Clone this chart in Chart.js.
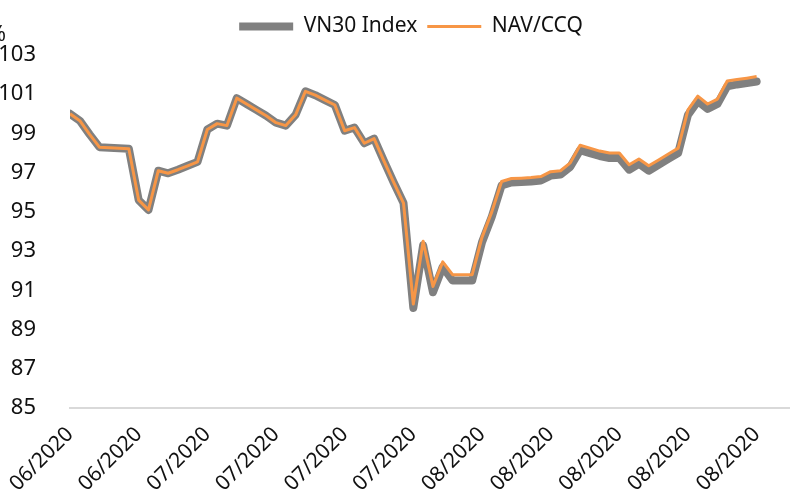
<!DOCTYPE html>
<html>
<head>
<meta charset="utf-8">
<script src="https://cdn.jsdelivr.net/npm/chart.js"></script>
<style>
  html, body { margin: 0; padding: 0; background: #fff; }
  #wrap { width: 790px; height: 495px; position: relative; }
</style>
</head>
<body>
<div id="wrap"><canvas id="myChart"></canvas></div>
<script>
// Tick labels shown every 7th trading day
const tickLabels = ['06/2020', '06/2020', '07/2020', '07/2020', '07/2020', '07/2020',
  '08/2020', '08/2020', '08/2020', '08/2020', '08/2020'];

// VN30 Index (rebased to 100)
const vn30 = [100.0, 99.65, 98.95, 98.3, 98.27, 98.25, 98.22, 95.6, 95.1, 97.1,
  96.97, 97.15, 97.35, 97.55, 99.2, 99.5, 99.4, 100.8, 100.5, 100.2,
  99.9, 99.55, 99.4, 99.95, 101.15, 100.95, 100.7, 100.45, 99.14, 99.3,
  98.5, 98.74, 97.6, 96.5, 95.45, 90.1, 93.3, 90.9, 92.2, 91.5,
  91.5, 91.5, 93.45, 94.75, 96.35, 96.5, 96.52, 96.55, 96.6, 96.85,
  96.9, 97.3, 98.15, 98.0, 97.85, 97.75, 97.75, 97.15, 97.45, 97.1,
  97.4, 97.7, 98.0, 99.95, 100.65, 100.25, 100.5, 101.4, 101.5, 101.57,
  101.65];

// NAV/CCQ (rebased to 100)
const nav = [100.0, 99.65, 98.95, 98.3, 98.27, 98.25, 98.22, 95.6, 95.1, 97.1,
  96.97, 97.15, 97.35, 97.55, 99.2, 99.5, 99.4, 100.8, 100.5, 100.2,
  99.9, 99.55, 99.4, 99.95, 101.15, 100.95, 100.7, 100.45, 99.14, 99.3,
  98.5, 98.74, 97.6, 96.5, 95.45, 90.3, 93.5, 91.2, 92.45, 91.8,
  91.8, 91.8, 93.7, 95.0, 96.55, 96.7, 96.72, 96.75, 96.8, 97.05,
  97.1, 97.5, 98.4, 98.25, 98.1, 98.0, 98.0, 97.4, 97.7, 97.35,
  97.65, 97.95, 98.25, 100.2, 100.9, 100.5, 100.75, 101.67, 101.75, 101.82,
  101.9];

// the stretch keyword goes into the weight slot so the canvas font shorthand carries it
const FAMILY = "'Noto Sans', 'DejaVu Sans', sans-serif";
const STRETCH = 'condensed';
const font = size => ({ family: FAMILY, size: size, weight: STRETCH });
const toPoints = arr => arr.map((v, i) => ({ x: i, y: v }));

const tweaks = {
  id: 'tweaks',
  beforeInit(chart) {
    // push the plot a bit lower under the legend
    const fit = chart.legend.fit;
    chart.legend.fit = function () { fit.call(this); this.height += 8; };
  },
  afterLayout(chart) {
    // legend sits slightly right of centre in the original
    chart.legend.left += 16;
    chart.legend.right += 16;
  },
  afterDraw(chart) {
    // clipped "%" unit label in the top-left corner
    const c = chart.ctx;
    c.save();
    c.font = STRETCH + ' 22px ' + FAMILY;
    c.fillStyle = '#111';
    c.textAlign = 'right';
    c.textBaseline = 'alphabetic';
    c.fillText('%', 6, 41);
    c.restore();
  }
};

const ctx = document.getElementById('myChart');
new Chart(ctx, {
  type: 'line',
  data: {
    datasets: [{
      label: 'VN30 Index',
      data: toPoints(vn30),
      borderColor: '#808080',
      backgroundColor: '#808080',
      borderWidth: 8,
      borderCapStyle: 'round',
      borderJoinStyle: 'round',
      pointRadius: 0,
      tension: 0,
      order: 2
    }, {
      label: 'NAV/CCQ',
      data: toPoints(nav),
      borderColor: '#F79646',
      backgroundColor: '#F79646',
      borderWidth: 3,
      borderCapStyle: 'butt',
      borderJoinStyle: 'round',
      pointRadius: 0,
      tension: 0,
      order: 1
    }]
  },
  options: {
    responsive: true,
    maintainAspectRatio: false,
    animation: false,
    layout: { padding: { top: 6, left: 0, right: 0, bottom: 0 } },
    plugins: {
      tooltip: { enabled: false },
      legend: {
        position: 'top',
        labels: {
          usePointStyle: true,
          pointStyle: 'line',
          pointStyleWidth: 54,
          padding: 10,
          color: '#111',
          font: font(21),
          sort: (a, b) => a.datasetIndex - b.datasetIndex
        }
      }
    },
    scales: {
      x: {
        type: 'linear',
        min: 0,
        max: 73.4,
        grid: { display: false },
        border: { display: true, color: '#d9d9d9', width: 2 },
        afterFit(scale) { scale.height = 87; },
        ticks: {
          stepSize: 7,
          includeBounds: false,
          autoSkip: false,
          maxRotation: 45,
          minRotation: 45,
          padding: 6,
          color: '#111',
          font: font(21),
          callback: v => (v % 7 === 0 ? tickLabels[v / 7] : '')
        }
      },
      y: {
        min: 85,
        max: 103,
        grid: { display: false },
        border: { display: false },
        afterFit(scale) { scale.width = 70; },
        ticks: {
          stepSize: 2,
          padding: 26,
          color: '#111',
          font: font(22)
        }
      }
    }
  },
  plugins: [tweaks]
});
</script>
</body>
</html>
